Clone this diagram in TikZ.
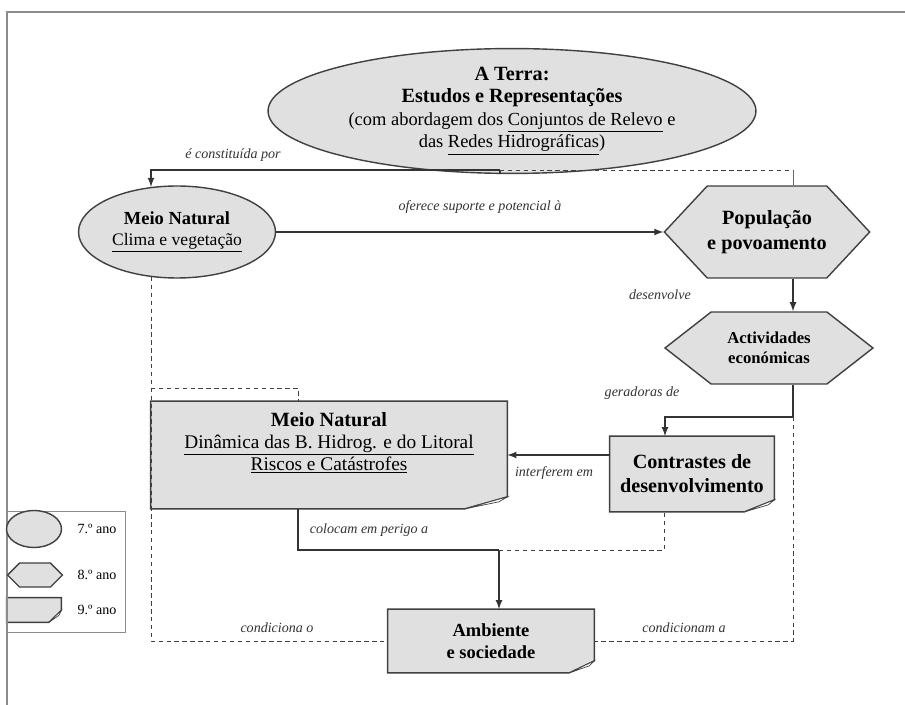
\documentclass[tikz,border=0pt]{standalone}
\usepackage{fontspec}
\setmainfont{Liberation Serif}
\usetikzlibrary{shapes.geometric,shapes.symbols,backgrounds}

\begin{document}
\begin{tikzpicture}[x=0.02cm,y=-0.02cm,
        every node/.style={font=\fontsize{10}{12}\selectfont},
        elipse/.style={ellipse, draw=black!75, fill=black!12, thick, inner sep=0pt},
        hexagono/.style={signal, signal to=west and east, draw=black!75, fill=black!12, thick, inner sep=0pt},
        nota/.style={rectangle, inner sep=0pt},
        rotulo/.style={font=\fontsize{8}{9}\selectfont\itshape, text=black!80},
        tracejado/.style={black!75, dash pattern=on 2.5pt off 2pt},
        linha/.style={black!80, thick},
    ]
        \useasboundingbox (0,0) rectangle (905,705);
        \draw[black!45, thick] (7,705) -- (7,12) -- (905,12);

        %Nodes
        \node[elipse, minimum width=9.76cm, minimum height=2.12cm, align=center, font=\fontsize{10.5}{12.8}\selectfont] (terra) at (512,111)
            {\textbf{\fontsize{11.5}{12.8}\selectfont A Terra:}\\ \textbf{\fontsize{11.5}{12.8}\selectfont Estudos e Representações}\\ (com abordagem dos \underline{Conjuntos de Relevo} e\\ das \underline{Redes Hidrográficas})};

        \node[elipse, minimum width=3.94cm, minimum height=1.84cm, align=center] (meio) at (177,232)
            {\textbf{\fontsize{10.5}{12}\selectfont Meio Natural}\\ \underline{Clima e vegetação}};

        \node[hexagono, signal pointer angle=94, minimum width=4.1cm, minimum height=1.84cm, align=center, font=\fontsize{11.5}{14}\selectfont\bfseries] (pop) at (767,232)
            {População\\ e povoamento};

        \node[hexagono, signal pointer angle=76, minimum width=4.16cm, minimum height=1.44cm, align=center, font=\fontsize{9.5}{11.3}\selectfont\bfseries] (act) at (769,348)
            {Actividades\\ económicas};

        \node[nota, minimum width=7.12cm, minimum height=2.14cm] (meiobox) at (329,455) {};
        \node[align=center, font=\fontsize{11}{12.5}\selectfont] (meiotexto) at (329,443)
            {\textbf{\fontsize{11.5}{12.5}\selectfont Meio Natural}\\ \underline{Dinâmica das B. Hidrog. e do Litoral}\\ \underline{Riscos e Catástrofes}};

        \node[nota, minimum width=3.28cm, minimum height=1.5cm, align=center, font=\fontsize{11.5}{13.6}\selectfont\bfseries] (contrastes) at (692,474)
            {Contrastes de\\ desenvolvimento};

        \node[nota, minimum width=4.12cm, minimum height=1.26cm, align=center, font=\fontsize{10.5}{12.5}\selectfont\bfseries] (ambiente) at (491,641)
            {Ambiente\\ e sociedade};

        %Legend
        \node[draw=black!45, thick, minimum width=2.36cm, minimum height=2.42cm, anchor=north west] (legenda) at (7,511) {};
        \node[elipse, minimum width=1.1cm, minimum height=0.74cm] (leg7) at (34,529) {};
        \node[hexagono, signal pointer angle=90, minimum width=1.1cm, minimum height=0.48cm] (leg8) at (35,575) {};
        \node[nota, minimum width=1.08cm, minimum height=0.48cm] (leg9) at (34,610) {};
        \node[font=\fontsize{8}{9}\selectfont] (leg7txt) at (97,529) {7.º ano};
        \node[font=\fontsize{8}{9}\selectfont] (leg8txt) at (97,575) {8.º ano};
        \node[font=\fontsize{8}{9}\selectfont] (leg9txt) at (97,610) {9.º ano};

        %Note shapes
        \begin{scope}[on background layer]
            \fill[white] (0,0) rectangle (905,705);
            \foreach \n/\cw in {meiobox/0.85cm, contrastes/0.6cm, ambiente/0.5cm, leg9/0.25cm} {
                \draw[black!75, thick, fill=black!12] (\n.north west) -- (\n.north east) -- ([yshift=0.24cm]\n.south east)
                    -- ([xshift=-\cw]\n.south east) -- (\n.south west) -- cycle;
                \draw[black!75, fill=white] ([xshift=-\cw]\n.south east) -- ([xshift=-0.2*\cw, yshift=0.14cm]\n.south east)
                    -- ([yshift=0.24cm]\n.south east) -- cycle;
            }
        \end{scope}

        %Coordinates
        \coordinate (no1) at (500,170);
        \coordinate (no2) at (793,170);
        \coordinate (no3) at (793,417);
        \coordinate (no4) at (665,417);
        \coordinate (esq) at (meio.240 |- 0,388);
        \coordinate (topo) at (298,388);
        \coordinate (no8) at (298,550);
        \coordinate (no9) at (499,550);
        \coordinate (no10) at (664,550);

        %Lines
        \draw[linha] (terra.south -| no1) -- (no1);
        \draw[linha, -latex] (no1) -| (meio.120);
        \draw[tracejado] (no1) -- (no2);
        \draw[black!60] (no2) -- (no2 |- pop.north);

        \draw[linha, -latex] (meio.east) -- (pop.west);
        \draw[linha, -latex] (pop.south -| no2) -- (act.north -| no2);
        \draw[linha, -latex] (act.south -| no3) -- (no3) -- (no4) -- (no4 |- contrastes.north);
        \draw[tracejado] (no3) |- (ambiente.east);

        \draw[linha, -latex] (meiobox.east -| contrastes.west) -- (meiobox.east);

        \draw[tracejado] (meio.240) |- (ambiente.west);
        \draw[tracejado] (esq) -- (topo) -- (topo |- meiobox.north);

        \draw[linha] (no8 |- meiobox.south) -- (no8) -- (no9);
        \draw[linha, -latex] (no9) -- (no9 |- ambiente.north);
        \draw[tracejado] (no9) -- (no10) -- (no10 |- contrastes.south);

        %Labels
        \node[rotulo] (l1) at (233,155) {é constituída por};
        \node[rotulo] (l2) at (480,207) {oferece suporte e potencial à};
        \node[rotulo] (l3) at (660,295) {desenvolve};
        \node[rotulo] (l4) at (642,393) {geradoras de};
        \node[rotulo] (l5) at (554,473) {interferem em};
        \node[rotulo] (l6) at (369,530) {colocam em perigo a};
        \node[rotulo] (l7) at (277,628) {condiciona o};
        \node[rotulo] (l8) at (684,628) {condicionam a};
    \end{tikzpicture}
\end{document}
